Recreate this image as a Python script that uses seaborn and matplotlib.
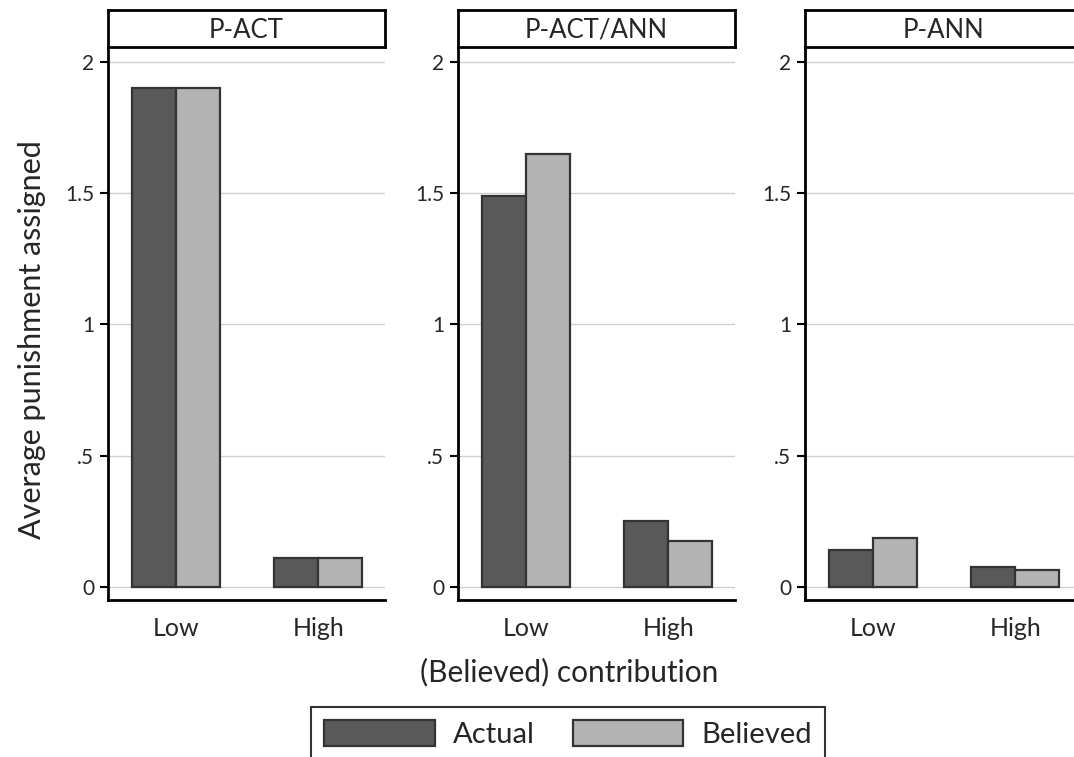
import matplotlib
matplotlib.use("Agg")
import matplotlib.pyplot as plt
import seaborn as sns
import pandas as pd
from matplotlib.patches import Patch

panels = ["P-ACT", "P-ACT/ANN", "P-ANN"]
categories = ["Low", "High"]
series = ["Actual", "Believed"]
actual = {"P-ACT": [1.90, 0.11], "P-ACT/ANN": [1.49, 0.25], "P-ANN": [0.14, 0.076]}
believed = {"P-ACT": [1.90, 0.11], "P-ACT/ANN": [1.65, 0.175], "P-ANN": [0.187, 0.065]}
yticks = [0, 0.5, 1, 1.5, 2]
yticklabels = ["0", ".5", "1", "1.5", "2"]
colors = {"Actual": "#595959", "Believed": "#b3b3b3"}

rows = []
for p in panels:
    for i, c in enumerate(categories):
        rows.append({"panel": p, "contrib": c, "type": "Actual", "value": actual[p][i]})
        rows.append({"panel": p, "contrib": c, "type": "Believed", "value": believed[p][i]})
df = pd.DataFrame(rows)

sns.set_theme(style="white")
plt.rcParams["font.family"] = ["Lato", "DejaVu Sans"]

W, H = 1074, 757
fig = plt.figure(figsize=(W / 100, H / 100), dpi=100)

lefts = [108, 458, 805]
aw = 277
top, bot = 47, 600
for p, lx in zip(panels, lefts):
    ax = fig.add_axes([lx / W, 1 - bot / H, aw / W, (bot - top) / H])
    sns.barplot(data=df[df.panel == p], x="contrib", y="value", hue="type",
                order=categories, hue_order=series, palette=colors,
                width=0.62, edgecolor="#333333", linewidth=1.6, ax=ax,
                legend=False, saturation=1)
    ax.set_xlim(-0.48, 1.47)
    ax.set_ylim(-0.05, 2.057)
    ax.set_yticks(yticks)
    ax.set_yticklabels(yticklabels, fontsize=15)
    ax.yaxis.grid(True, color="#d0d0d0", linewidth=1)
    ax.set_axisbelow(True)
    for s in ["top", "right"]:
        ax.spines[s].set_visible(False)
    for s in ["left", "bottom"]:
        ax.spines[s].set_color("black")
        ax.spines[s].set_linewidth(2)
    ax.tick_params(axis="y", which="both", left=True, length=6, width=1.5,
                   color="black", pad=4)
    ax.tick_params(axis="x", bottom=False, labelsize=18, pad=6)
    ax.set_xlabel("")
    ax.set_ylabel("")
    # header strip
    hx = fig.add_axes([lx / W, 1 - top / H, aw / W, 37 / H])
    hx.set_xticks([])
    hx.set_yticks([])
    for s in hx.spines.values():
        s.set_color("black")
        s.set_linewidth(2)
    hx.text(0.5, 0.45, p, ha="center", va="center", fontsize=18.5,
            transform=hx.transAxes)

fig.text(32 / W, 1 - 340 / H, "Average punishment assigned", rotation=90,
         ha="center", va="center", fontsize=22)
fig.text(569 / W, 1 - 672 / H, "(Believed) contribution", ha="center",
         va="center", fontsize=21.5)

handles = [Patch(facecolor=colors[s], edgecolor="#333333", linewidth=1.6, label=s)
           for s in series]
leg = fig.legend(handles=handles, loc="upper center", ncol=2,
                 bbox_to_anchor=(568 / W, 1 - 692 / H), fontsize=21,
                 frameon=True, fancybox=False, edgecolor="black",
                 handlelength=3.8, handleheight=1.0, columnspacing=1.3,
                 handletextpad=0.6, borderpad=0.45)
leg.get_frame().set_linewidth(1.5)

fig.savefig("out.png", dpi=100)
